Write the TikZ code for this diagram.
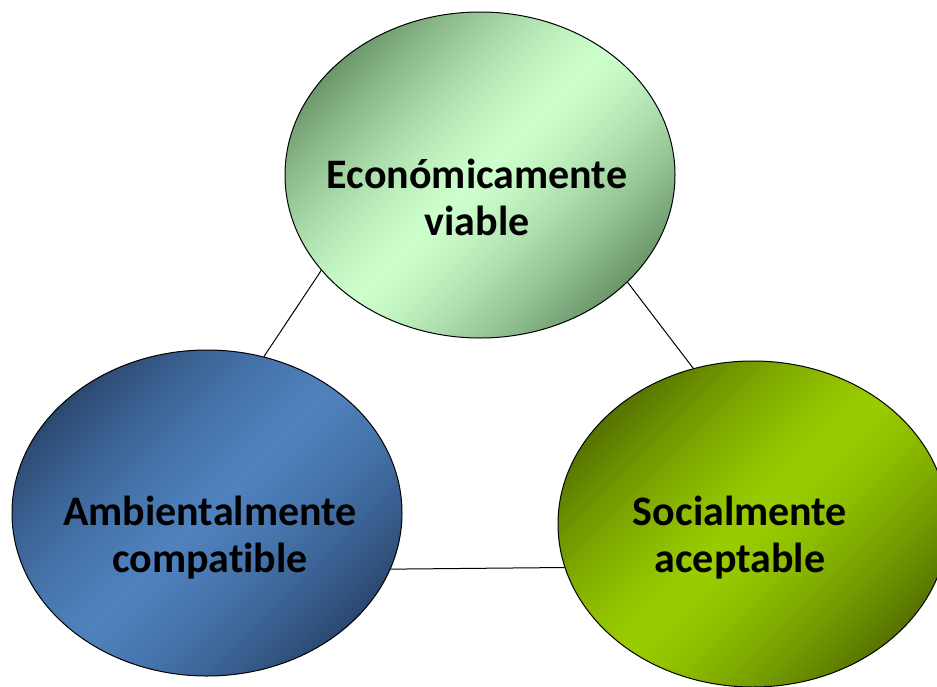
\documentclass[tikz,border=0pt]{standalone}
\usepackage{fontspec}
\setmainfont{Carlito}[Ligatures=NoCommon]
\usetikzlibrary{shapes.geometric}
\definecolor{ecoL}{HTML}{CCFFCC}
\definecolor{ecoD}{HTML}{6A966A}
\definecolor{envL}{HTML}{4F81BD}
\definecolor{envD}{HTML}{2A4870}
\definecolor{socL}{HTML}{99CC00}
\definecolor{socD}{HTML}{557200}
\newcommand\gradfill[3]{%
  \begin{scope}
    \clip (#1) ellipse [x radius=195, y radius=163];
    \foreach \k in {-60,...,59} {
      \pgfmathsetmacro\sa{\k*4.25}
      \pgfmathsetmacro\sb{\k*4.25+5.2}
      \pgfmathsetmacro\fr{min(100,100*(abs(\k+0.5)/60)^1.4)}
      \fill[color=#3!\fr!#2, shift={(#1)}]
        (\sa/2+300,\sa/2-300) -- (\sa/2-300,\sa/2+300) --
        (\sb/2-300,\sb/2+300) -- (\sb/2+300,\sb/2-300) -- cycle;
    }
  \end{scope}}
\begin{document}
\begin{tikzpicture}[x=1pt,y=-1pt,
  circ/.style={ellipse, draw=black, line width=1pt, minimum width=390pt, minimum height=326pt, inner sep=0pt},
  lbl/.style={font=\bfseries\fontsize{42}{47}\selectfont, align=center, inner sep=0pt},
  link/.style={draw=black, line width=1pt}]
\useasboundingbox (0,0) rectangle (937,686);
\clip (0,0) rectangle (937,686);
\gradfill{480,175}{ecoL}{ecoD}
\gradfill{207,513}{envL}{envD}
\gradfill{753,524}{socL}{socD}
\node[circ] (eco) at (480,175) {};
\node[circ] (env) at (207,513) {};
\node[circ] (soc) at (753,524) {};
\draw[link] (eco.211.8) -- (env.70.6);
\draw[link] (eco.324.1) -- (soc.111.6);
\draw[link] (env.343.4) -- (soc.193);
\node[lbl] (ecot) at (477,197) {Económicamente\\viable};
\node[lbl] (envt) at (210,538) {Ambientalmente\\compatible};
\node[lbl] (soct) at (740,538) {Socialmente\\aceptable};
\end{tikzpicture}
\end{document}
